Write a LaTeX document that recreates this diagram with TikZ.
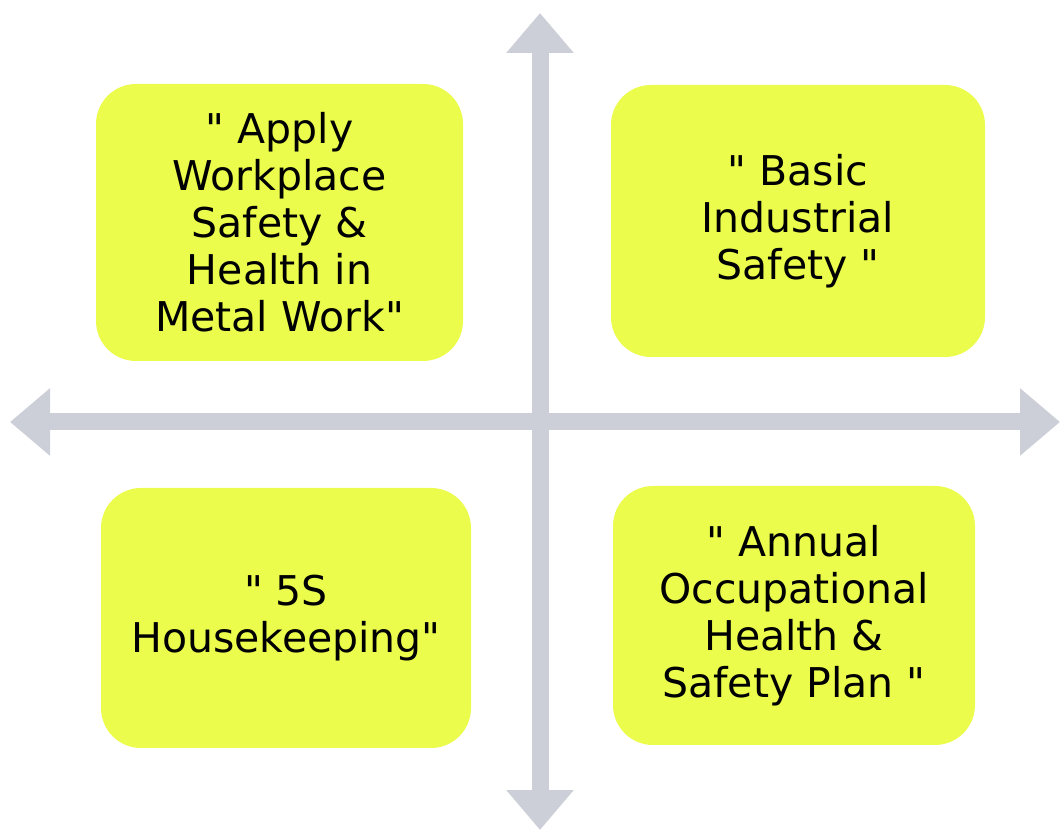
\documentclass[tikz,border=0pt]{standalone}
\usepackage{fontspec}
\newfontfamily\vfont{DejaVu Sans}
\usetikzlibrary{arrows.meta}
\definecolor{boxfill}{RGB}{235,252,76}
\definecolor{axisgray}{RGB}{204,207,216}
\begin{document}
\begin{tikzpicture}[x=1pt,y=1pt,
  quad/.style={fill=boxfill, rounded corners=40pt, align=center, inner sep=0pt,
    font=\vfont\fontsize{41}{47}\selectfont},
  axis/.style={draw=axisgray, line width=17pt,
    {Triangle[width=65pt,length=40pt]}-{Triangle[width=65pt,length=40pt]}}]
\useasboundingbox (0,0) rectangle (1060,830);
\coordinate (vbot) at (540,0);
\coordinate (vtop) at (540,817);
\coordinate (hleft) at (10,408);
\coordinate (hright) at (1060,408);
\draw[axis] (vbot) -- (vtop);
\draw[axis] (hleft) -- (hright);
\node[quad, minimum width=367pt, minimum height=277pt] (tl) at (279.5,607.5)
  {" Apply\\Workplace\\Safety \&\\Health in\\Metal Work"};
\node[quad, minimum width=374pt, minimum height=272pt] (tr) at (798,609)
  {" Basic\\Industrial\\Safety "};
\node[quad, minimum width=370pt, minimum height=260pt] (bl) at (286,212)
  {" 5S\\Housekeeping"};
\node[quad, minimum width=362pt, minimum height=259pt] (br) at (794,214.5)
  {" Annual\\Occupational\\Health \&\\Safety Plan "};
\end{tikzpicture}
\end{document}
